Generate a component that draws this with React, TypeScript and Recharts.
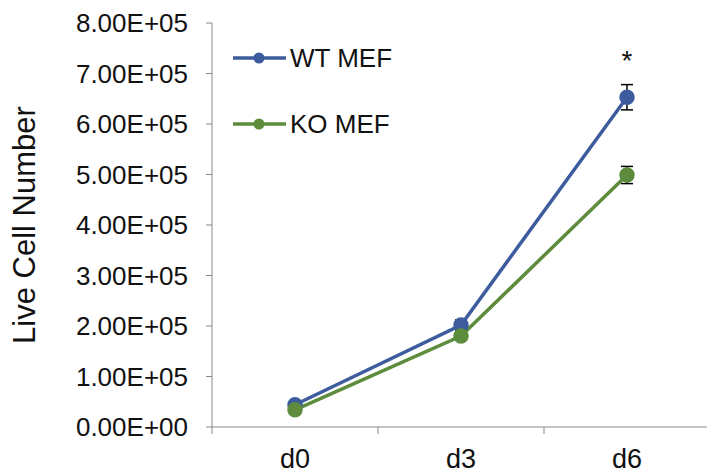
import React from "react";
import {
  LineChart,
  Line,
  XAxis,
  YAxis,
  ErrorBar,
  Legend,
  LabelList,
  Label,
} from "recharts";

const categories = ["d0", "d3", "d6"];
const wtMean = [44000, 202000, 653000];
const wtErr = [5000, 10000, 25000];
const koMean = [34000, 180000, 499000];
const koErr = [4000, 8000, 17000];
const significance = ["", "", "*"];
const yTicks = [0, 100000, 200000, 300000, 400000, 500000, 600000, 700000, 800000];
// band edges get a tick mark, band centres get the category label
const xTicks = [0, 0.5, 1, 1.5, 2, 2.5, 3];

const BLUE = "#3D5C9E";
const GREEN = "#5C8C3C";
const AXIS = "#898989";
const FONT = "'Liberation Sans', Arial, sans-serif";

const data = categories.map((c, i) => ({
  pos: i + 0.5,
  day: c,
  wt: wtMean[i],
  wtErr: wtErr[i],
  ko: koMean[i],
  koErr: koErr[i],
  sig: significance[i],
}));

function sci(v: number) {
  if (v === 0) return "0.00E+00";
  const exp = Math.floor(Math.log10(Math.abs(v)));
  const mant = v / Math.pow(10, exp);
  return (
    mant.toFixed(2) +
    "E" +
    (exp >= 0 ? "+" : "-") +
    String(Math.abs(exp)).padStart(2, "0")
  );
}

const XTick = (props: any) => {
  const { x, y, payload } = props;
  const v = payload.value;
  if (Number.isInteger(v)) {
    return <line x1={x} x2={x} y1={y} y2={y + 7} stroke={AXIS} strokeWidth={1} />;
  }
  return (
    <text x={x} y={y + 41} textAnchor="middle" fontSize={27} fontFamily={FONT} fill="#111">
      {categories[Math.floor(v)]}
    </text>
  );
};

const LegendBox = () => {
  const items = [
    { name: "WT MEF", color: BLUE },
    { name: "KO MEF", color: GREEN },
  ];
  return (
    <div style={{ fontFamily: FONT }}>
      {items.map((it, i) => (
        <div
          key={it.name}
          style={{
            display: "flex",
            alignItems: "center",
            height: 30,
            marginBottom: i === 0 ? 36 : 0,
          }}
        >
          <svg width={56} height={14}>
            <line x1={1} y1={7} x2={54} y2={7} stroke={it.color} strokeWidth={3.5} />
            <circle cx={27} cy={7} r={5.5} fill={it.color} />
          </svg>
          <span style={{ fontSize: 26, color: "#111", marginLeft: 2 }}>{it.name}</span>
        </div>
      ))}
    </div>
  );
};

const Star = (props: any) => {
  const { x, y, value } = props;
  if (!value) return null;
  return (
    <text x={x} y={y - 27} textAnchor="middle" fontSize={28} fontFamily={FONT} fill="#111">
      {value}
    </text>
  );
};

export default function App() {
  return (
    <div style={{ position: "absolute", left: 0, top: 0, width: 707, height: 473, overflow: "hidden", background: "#fff" }}>
      <LineChart
        width={712}
        height={473}
        data={data}
        margin={{ top: 23, right: 2, bottom: 0, left: 0 }}
      >
        <XAxis
          type="number"
          dataKey="pos"
          domain={[0, 3]}
          ticks={xTicks}
          interval={0}
          height={46}
          tickLine={false}
          tickSize={0}
          tickMargin={0}
          tick={<XTick />}
          stroke={AXIS}
        />
        <YAxis
          width={212}
          domain={[0, 800000]}
          ticks={yTicks}
          tickFormatter={sci}
          tickSize={6}
          tickMargin={18}
          stroke={AXIS}
          tick={{ fontSize: 26, fill: "#111", fontFamily: FONT }}
        >
          <Label
            value="Live Cell Number"
            angle={-90}
            position="center"
            dx={-82}
            style={{ fontSize: 31, fill: "#111", fontFamily: FONT }}
          />
        </YAxis>
        <Legend
          layout="vertical"
          verticalAlign="middle"
          align="center"
          content={<LegendBox />}
          wrapperStyle={{ left: 232, top: 43, width: 200 }}
        />
        <Line
          dataKey="wt"
          name="WT MEF"
          stroke={BLUE}
          strokeWidth={3.5}
          dot={{ r: 6, fill: BLUE, stroke: BLUE }}
          isAnimationActive={false}
        >
          <ErrorBar dataKey="wtErr" stroke="#000" strokeWidth={1.5} width={6} />
          <LabelList dataKey="sig" content={<Star />} />
        </Line>
        <Line
          dataKey="ko"
          name="KO MEF"
          stroke={GREEN}
          strokeWidth={3.5}
          dot={{ r: 6, fill: GREEN, stroke: GREEN }}
          isAnimationActive={false}
        >
          <ErrorBar dataKey="koErr" stroke="#000" strokeWidth={1.5} width={6} />
        </Line>
      </LineChart>
    </div>
  );
}
